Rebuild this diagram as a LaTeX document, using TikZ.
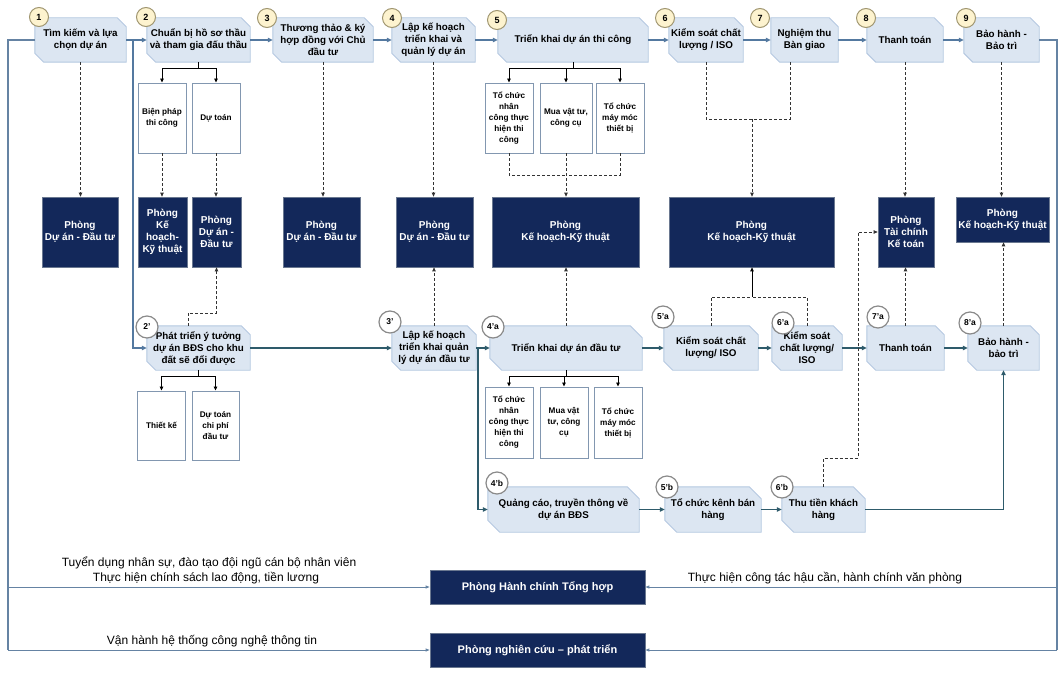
\documentclass[tikz,border=0pt]{standalone}
\usepackage{fontspec}
\setmainfont{Liberation Sans}
\usetikzlibrary{arrows.meta,calc,backgrounds}
\definecolor{procfill}{HTML}{DCE6F2}
\definecolor{procdraw}{HTML}{B4C8E0}
\definecolor{navy}{HTML}{13285A}
\definecolor{navydraw}{HTML}{6A7890}
\definecolor{subdraw}{HTML}{8297B0}
\definecolor{toparrow}{HTML}{5479A0}
\definecolor{midarrow}{HTML}{2E5B6B}
\definecolor{sidearrow}{HTML}{6583A3}
\definecolor{cream}{HTML}{FDF3CF}
\definecolor{creamdraw}{HTML}{A09670}
\definecolor{circdraw}{HTML}{8A8A8A}
\newcommand\chbox[2][9]{%
  \path[chshape] (#2.north west) -- ([xshift=-#1pt]#2.north east) -- ([yshift=-#1pt]#2.north east)
    -- (#2.south east) -- ([xshift=#1pt]#2.south west) -- ([yshift=#1pt]#2.south west) -- cycle;}
\begin{document}
\begin{tikzpicture}[x=1pt,y=-1pt,
  chshape/.style={fill=procfill,draw=procdraw,line width=0.9pt},
  proc/.style={rectangle,inner sep=1pt,align=center,minimum height=44pt,
    font=\fontsize{9.8}{12}\selectfont\bfseries},
  dept/.style={rectangle,fill=navy,draw=navydraw,line width=0.7pt,text=white,align=center,
    inner sep=1pt,font=\fontsize{10}{12}\selectfont\bfseries},
  sub/.style={rectangle,fill=white,draw=subdraw,line width=0.9pt,align=center,inner sep=1pt,
    minimum width=48pt,font=\fontsize{8.2}{11}\selectfont\bfseries},
  numc/.style={circle,fill=cream,draw=creamdraw,line width=1pt,minimum size=19pt,inner sep=0pt,
    font=\fontsize{9}{9}\selectfont\bfseries},
  numw/.style={circle,fill=white,draw=circdraw,line width=1.2pt,minimum size=22pt,inner sep=0pt,
    font=\fontsize{8.5}{8.5}\selectfont\bfseries},
  lbl/.style={inner sep=0pt,font=\fontsize{12}{14}\selectfont},
  tarrow/.style={draw=toparrow,line width=1.4pt,-{Triangle[length=5pt,width=4.5pt]}},
  marrow/.style={draw=midarrow,line width=1.3pt,-{Triangle[length=5pt,width=4.5pt]}},
  dsh/.style={draw=black!80,line width=0.8pt,dash pattern=on 3pt off 2pt},
  dsharr/.style={dsh,-{Triangle[length=4pt,width=3.5pt]}},
  tree/.style={draw=black,line width=0.8pt},
  treearr/.style={tree,-{Triangle[length=4pt,width=3.5pt]}},
  side/.style={draw=sidearrow,line width=1.8pt},
  sidearr/.style={draw=sidearrow,line width=0.9pt,-{Triangle[length=4pt,width=3pt]}}]
\useasboundingbox (0,0) rectangle (1062,674);

% top process row
\node[proc,minimum width=91pt] (b1) at (80.5,40) {Tìm kiếm và lựa\\chọn dự án};
\node[proc,minimum width=103pt] (b2) at (198.5,40) {Chuẩn bị hồ sơ thầu\\và tham gia đấu thầu};
\node[proc,minimum width=100pt] (b3) at (323,40) {Thương thảo \& ký\\hợp đồng với Chủ\\đầu tư};
\node[proc,minimum width=83pt] (b4) at (433.5,40) {Lập kế hoạch\\triển khai và\\quản lý dự án};
\node[proc,minimum width=150pt] (b5) at (573,40) {Triển khai dự án thi công};
\node[proc,minimum width=74pt] (b6) at (706,40) {Kiểm soát chất\\lượng / ISO};
\node[proc,minimum width=67pt] (b7) at (804.5,40) {Nghiệm thu\\Bàn giao};
\node[proc,minimum width=76pt] (b8) at (905,40) {Thanh toán};
\node[proc,minimum width=75pt] (b9) at (1001.5,40) {Bảo hành -\\Bảo trì};

% sub boxes top
\node[sub,minimum height=70pt] (s21) at (162,118) {Biện pháp\\thi công};
\node[sub,minimum height=70pt] (s22) at (216,118) {Dự toán};
\node[sub,minimum height=70pt] (s51) at (509,118) {Tổ chức\\nhân\\công thực\\hiện thi\\công};
\node[sub,minimum height=70pt,minimum width=52pt] (s52) at (566,118) {Mua vật tư,\\công cụ};
\node[sub,minimum height=70pt] (s53) at (620,118) {Tổ chức\\máy móc\\thiết bị};

% departments
\node[dept,minimum width=76pt,minimum height=70pt] (p1) at (80,232) {Phòng\\Dự án - Đầu tư};
\node[dept,minimum width=49pt,minimum height=70pt] (p2a) at (162.5,232) {Phòng\\Kế\\hoạch-\\Kỹ thuật};
\node[dept,minimum width=49pt,minimum height=70pt] (p2b) at (216.5,232) {Phòng\\Dự án -\\Đầu tư};
\node[dept,minimum width=77pt,minimum height=70pt] (p3) at (321.5,232) {Phòng\\Dự án - Đầu tư};
\node[dept,minimum width=77pt,minimum height=70pt] (p4) at (434.5,232) {Phòng\\Dự án - Đầu tư};
\node[dept,minimum width=147pt,minimum height=70pt] (p5) at (565.5,232) {Phòng\\Kế hoạch-Kỹ thuật};
\node[dept,minimum width=165pt,minimum height=70pt] (p6) at (751.5,232) {Phòng\\Kế hoạch-Kỹ thuật};
\node[dept,minimum width=56pt,minimum height=70pt] (p8) at (906,232) {Phòng\\Tài chính\\Kế toán};
\node[dept,minimum width=93pt,minimum height=45pt] (p9) at (1002.5,219.5) {Phòng\\Kế hoạch-Kỹ thuật};

% middle process row
\node[proc,minimum width=103pt] (m2) at (198.5,348) {Phát triển ý tưởng\\dự án BĐS cho khu\\đất sẽ đổi được};
\node[proc,minimum width=84pt] (m3) at (434,348) {Lập kế hoạch\\triển khai quản\\lý dự án đầu tư};
\node[proc,minimum width=152pt] (m4a) at (566,348) {Triển khai dự án đầu tư};
\node[proc,minimum width=94pt] (m5) at (711,348) {Kiểm soát chất\\lượng/ ISO};
\node[proc,minimum width=70pt] (m6) at (807,348) {Kiểm soát\\chất lượng/\\ISO};
\node[proc,minimum width=77pt] (m7) at (905.5,348) {Thanh toán};
\node[proc,minimum width=71pt] (m8) at (1003.5,348) {Bảo hành -\\bảo trì};

% sub boxes middle
\node[sub,minimum height=69pt] (st1) at (161.5,425.5) {Thiết kế};
\node[sub,minimum height=69pt,minimum width=47pt] (st2) at (215.5,425.5) {Dự toán\\chi phí\\đầu tư};
\node[sub,minimum height=71pt] (s41) at (509,422.5) {Tổ chức\\nhân\\công thực\\hiện thi\\công};
\node[sub,minimum height=71pt] (s42) at (564,422.5) {Mua vật\\tư, công\\cụ};
\node[sub,minimum height=71pt] (s43) at (618,422.5) {Tổ chức\\máy móc\\thiết bị};

% bottom process row
\node[proc,minimum width=151pt,minimum height=45pt] (q4) at (563.5,509.5) {Quảng cáo, truyền thông về\\dự án BĐS};
\node[proc,minimum width=96pt,minimum height=45pt] (q5) at (713,509.5) {Tổ chức kênh bán\\hàng};
\node[proc,minimum width=83pt,minimum height=45pt] (q6) at (823.5,509.5) {Thu tiền khách\\hàng};

% support departments
\node[dept,minimum width=215pt,minimum height=34pt,font=\fontsize{11}{13}\selectfont\bfseries] (hc) at (537.5,587) {Phòng Hành chính Tổng hợp};
\node[dept,minimum width=215pt,minimum height=34pt,font=\fontsize{11}{13}\selectfont\bfseries] (nc) at (537.5,650) {Phòng nghiên cứu – phát triển};

\node[lbl] (l1) at (209,563) {Tuyển dụng nhân sự, đào tạo đội ngũ cán bộ nhân viên};
\node[lbl] (l2) at (206,578) {Thực hiện chính sách lao động, tiền lương};
\node[lbl] (l3) at (825,578) {Thực hiện công tác hậu cần, hành chính văn phòng};
\node[lbl] (l4) at (212,641) {Vận hành hệ thống công nghệ thông tin};

\begin{pgfonlayer}{background}
\foreach \n in {b1,b2,b3,b4,b5,b6,b7,b8,b9,m2,m3,m5,m6,m7,m8} {\chbox{\n}}
\foreach \n in {m4a,q4,q5,q6} {\chbox[12]{\n}}
\end{pgfonlayer}

% coordinates
\coordinate (j1) at (133,40);
\coordinate (j2) at (478,348);
\coordinate (lmid) at (8,587);
\coordinate (lbot) at (8,650);
\coordinate (rmid) at (1057,587);
\coordinate (rbot) at (1057,650);
\coordinate (t2) at ($(b2.south)+(0,6)$);
\coordinate (t5) at ($(b5.south)+(0,6)$);
\coordinate (t2b) at ($(m2.south)+(0,6)$);
\coordinate (t4) at ($(m4a.south)+(0,6)$);
\coordinate (d5) at (566,175);
\coordinate (d6) at (752,119);
\coordinate (d2) at (216.5,313);
\coordinate (d56) at (752,297);
\coordinate (d6a) at (858,458);

% top arrows
\draw[tarrow] (b1.east) -- (b2.west);
\draw[tarrow] (b2.east) -- (b3.west);
\draw[tarrow] (b3.east) -- (b4.west);
\draw[tarrow] (b4.east) -- (b5.west);
\draw[tarrow] (b5.east) -- (b6.west);
\draw[tarrow] (b6.east) -- (b7.west);
\draw[tarrow] (b7.east) -- (b8.west);
\draw[tarrow] (b8.east) -- (b9.west);
\draw[tarrow] (j1) |- (m2.west);

% side lines
\draw[side] (b1.west) -| (lbot);
\draw[side] (b9.east) -| (rbot);
\draw[sidearr] (lmid) -- (hc.west);
\draw[sidearr] (lbot) -- (nc.west);
\draw[sidearr] (rmid) -- (hc.east);
\draw[sidearr] (rbot) -- (nc.east);

% middle arrows
\draw[marrow] (m2.east) -- (m3.west);
\draw[marrow] (m3.east) -- (m4a.west);
\draw[marrow] (m4a.east) -- (m5.west);
\draw[marrow] (m5.east) -- (m6.west);
\draw[marrow] (m6.east) -- (m7.west);
\draw[marrow] (m7.east) -- (m8.west);
\draw[marrow] (j2) |- (q4.west);
\draw[marrow] (q4.east) -- (q5.west);
\draw[marrow] (q5.east) -- (q6.west);
\draw[marrow] (q6.east) -| (m8.south);

% trees
\draw[tree] (b2.south) -- (t2);
\draw[treearr] (t2) -| (s21.north);
\draw[treearr] (t2) -| (s22.north);
\draw[tree] (b5.south) -- (t5);
\draw[treearr] (t5) -| (s51.north);
\draw[treearr] (t5) -| (s52.north);
\draw[treearr] (t5) -| (s53.north);
\draw[tree] (m2.south) -- (t2b);
\draw[treearr] (t2b) -| (st1.north);
\draw[treearr] (t2b) -| (st2.north);
\draw[tree] (m4a.south) -- (t4);
\draw[treearr] (t4) -| (s41.north);
\draw[treearr] (t4) -| (s42.north);
\draw[treearr] (t4) -| (s43.north);

% dashed links
\draw[dsharr] (b1.south) -- (b1.south |- p1.north);
\draw[dsharr] (s21.south) -- (s21.south |- p2a.north);
\draw[dsharr] (s22.south) -- (s22.south |- p2b.north);
\draw[dsharr] (b3.south) -- (b3.south |- p3.north);
\draw[dsharr] (b4.south) -- (b4.south |- p4.north);
\draw[dsh] (s51.south) |- (d5);
\draw[dsh] (s53.south) |- (d5);
\draw[dsharr] (s52.south) -- (s52.south |- p5.north);
\draw[dsh] (b6.south) |- (d6);
\draw[dsh] ([xshift=-14.5pt]b7.south) |- (d6);
\draw[dsharr] (d6) -- (d6 |- p6.north);
\draw[dsharr] (b8.south) -- (b8.south |- p8.north);
\draw[dsharr] (b9.south) -- (b9.south |- p9.north);
\draw[dsharr] ([xshift=-10.5pt]m2.north) |- (d2) -- (p2b.south);
\draw[dsharr] (m3.north) -- (m3.north |- p4.south);
\draw[dsharr] (m4a.north) -- (m4a.north |- p5.south);
\draw[dsh] (m5.north) |- (d56);
\draw[dsh] (m6.north) |- (d56);
\draw[treearr] (d56) -- (d56 |- p6.south);
\draw[dsharr] (m7.north) -- (m7.north |- p8.south);
\draw[dsharr] (m8.north) -- (m8.north |- p9.south);
\draw[dsharr] (q6.north) |- (d6a) |- (p8.west);

% number circles
\node[numc] (n1) at (39,17) {1};
\node[numc] (n2) at (146,17) {2};
\node[numc] (n3) at (267,18) {3};
\node[numc] (n4) at (392,18) {4};
\node[numc] (n5) at (497,20) {5};
\node[numc] (n6) at (665,18) {6};
\node[numc] (n7) at (760,18) {7};
\node[numc] (n8) at (866,18) {8};
\node[numc] (n9) at (966,18) {9};
\node[numw] (c2) at (147,327) {2'};
\node[numw] (c3) at (390,322) {3'};
\node[numw] (c4a) at (493,327) {4'a};
\node[numw] (c5a) at (663,317) {5'a};
\node[numw] (c6a) at (783,323) {6'a};
\node[numw] (c7a) at (878,317) {7'a};
\node[numw] (c8a) at (970,323) {8'a};
\node[numw] (c4b) at (497,483) {4'b};
\node[numw] (c5b) at (667,487) {5'b};
\node[numw] (c6b) at (782,487) {6'b};
\end{tikzpicture}
\end{document}
